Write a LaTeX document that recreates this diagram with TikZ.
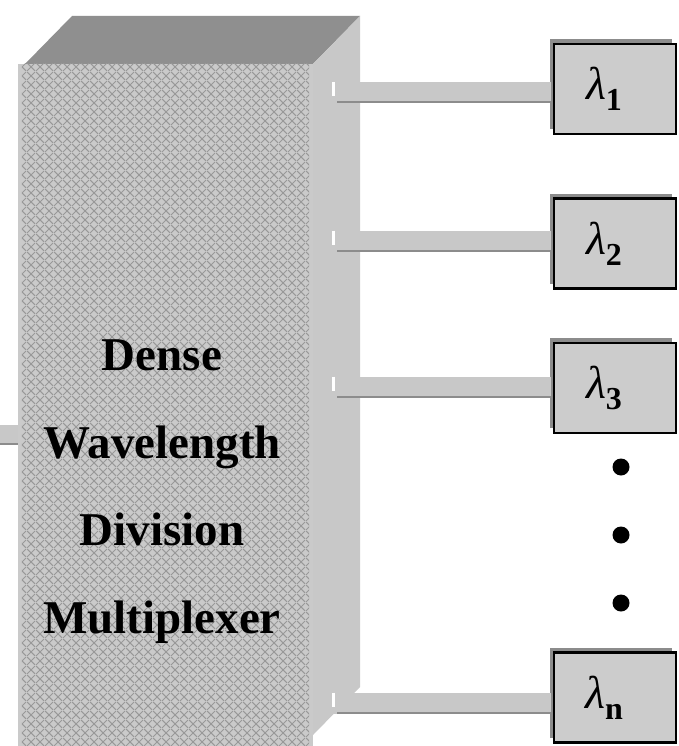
\documentclass[tikz,border=0pt]{standalone}
\usepackage{fontspec}
\setmainfont{Liberation Serif}
\usetikzlibrary{patterns.meta,shadows}
\definecolor{topc}{HTML}{8F8F8F}
\definecolor{sidec}{HTML}{C8C8C8}
\definecolor{frontc}{HTML}{CACACA}
\definecolor{hatchc}{HTML}{989898}
\definecolor{barc}{HTML}{C8C8C8}
\definecolor{boxc}{HTML}{CCCCCC}
\definecolor{shadc}{HTML}{8C8C8C}
\tikzdeclarepattern{
  name=xlattice,
  type=uncolored,
  bounding box={(0pt,0pt) and (9pt,9pt)},
  tile size={(9pt,9pt)},
  code={\draw[line width=1.1pt] (0pt,0pt) -- (9pt,9pt) (0pt,9pt) -- (9pt,0pt);}
}
\newcommand{\lamlab}[1]{\textit{λ}\raisebox{-11pt}{\fontsize{32}{32}\selectfont\bfseries #1}\kern22pt}
\begin{document}
\begin{tikzpicture}[x=1pt,y=-1pt,
  lbox/.style={draw=black, line width=2.5pt, fill=boxc, minimum width=122pt,
    minimum height=90pt, inner sep=0pt, font=\fontsize{46}{46}\selectfont,
    general shadow={shadow xshift=-4pt, shadow yshift=5pt, fill=shadc}},
  bar/.style={barc, line width=21pt},
  barline/.style={shadc, line width=2pt},
  notch/.style={white, line width=3pt},
  txt/.style={font=\fontsize{47}{47}\selectfont\bfseries, anchor=base},
  dotn/.style={circle, fill=black, minimum size=17pt, inner sep=0pt}]
\useasboundingbox[fill=white] (0,0) rectangle (678,746);
% top face
\fill[topc] (25,64) -- (72,16) -- (360,16) -- (313,64) -- cycle;
% side face
\fill[sidec] (313,64) -- (360,16) -- (360,687) -- (313,735) -- cycle;
% front face
\node[minimum width=295pt, minimum height=682pt, inner sep=0pt, fill=frontc] (mux) at (165.5,405) {};
\fill[pattern=xlattice, pattern color=hatchc] ([xshift=4pt]mux.north west) rectangle ([xshift=-4pt]mux.south east);
% text
\node[txt] (t1) at (162,370) {Dense};
\node[txt] (t2) at (162,458) {Wavelength};
\node[txt] (t3) at (162,545) {Division};
\node[txt] (t4) at (162,633) {Multiplexer};
% input stub
\coordinate (in) at (0,435);
\coordinate (inend) at (in -| mux.west);
\draw[bar, line width=20pt] (in) -- (inend);
\draw[barline] ([yshift=-9pt]in) -- ([yshift=-9pt]inend);
% output boxes
\node[lbox] (l1) at (615,89) {\lamlab{1}};
\node[lbox] (l2) at (615,243.5) {\lamlab{2}};
\node[lbox] (l3) at (615,388) {\lamlab{3}};
\node[lbox] (ln) at (615,697.5) {\lamlab{n}};
% ports
\coordinate (p1) at (332,92.5);
\coordinate (p2) at (332,241);
\coordinate (p3) at (332,387);
\coordinate (pn) at (332,703);
\foreach \i in {1,2,3,n}{
  \coordinate (e\i) at (p\i -| l\i.west);
  \draw[bar] (p\i) -- ([xshift=-1.3pt]e\i);
  \draw[barline] ([xshift=5pt,yshift=-9.5pt]p\i) -- ([xshift=-1.3pt,yshift=-9.5pt]e\i);
  \draw[notch] ([xshift=1.5pt,yshift=10.5pt]p\i) -- ([xshift=1.5pt,yshift=-4pt]p\i);
}
% dots
\node[dotn] (d1) at (621,467) {};
\node[dotn] (d2) at (621,535) {};
\node[dotn] (d3) at (621,603) {};
\end{tikzpicture}
\end{document}
